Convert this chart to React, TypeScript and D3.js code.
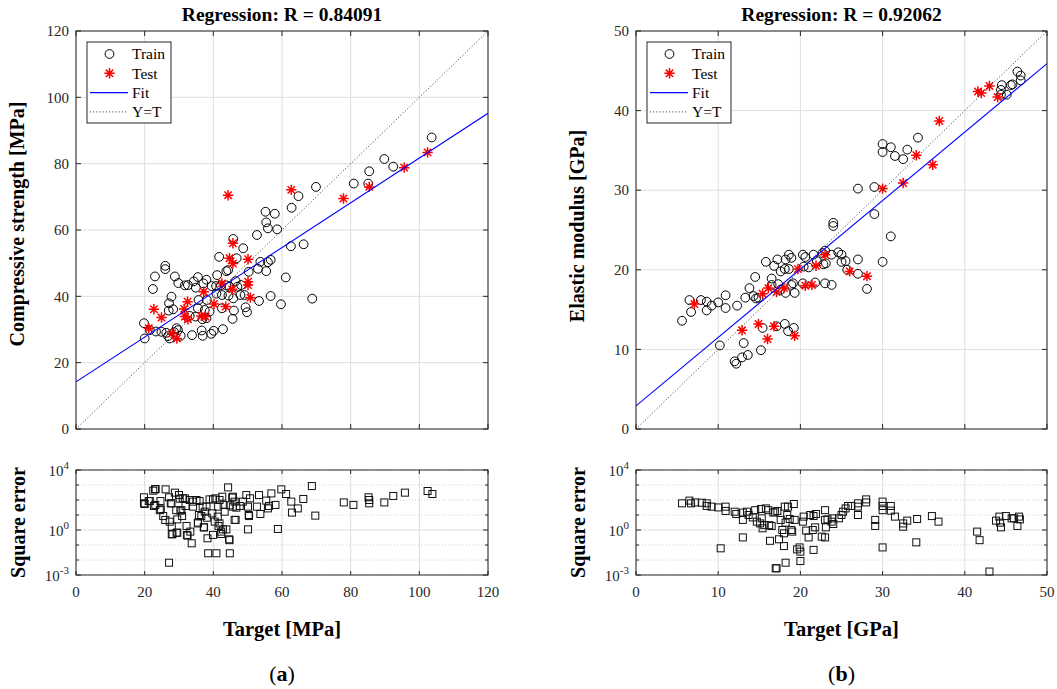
import React from 'react';
import * as d3 from 'd3';

// ---------- DATA ----------
// Panel (a): compressive strength [MPa]  [target, output]
const trainA: [number, number][] = [
  [103.6,87.9],[89.8,81.4],[92.4,79.1],[85.4,77.7],[80.9,74],[85.1,74],[69.9,73],[64.8,70.2],[62.8,66.7],[55.2,65.5],[57.9,64.9],[55.4,62.3],[55.9,60.5],[58.6,60.2],
  [52.7,58.5],[45.8,57.3],[48.7,54.5],[62.6,55.1],[66.3,55.7],[41.7,51.9],[46.8,51.5],[53.7,50.4],[55.9,50.3],[56.7,51],[53,48.3],[55.4,47.6],[50.3,47.4],
  [26,49.2],[26,48.2],[23,46],[28.8,46],[22.4,42.2],[29.8,44],[31.7,43.3],[32.6,43.4],[34.3,44.5],[35.5,45.8],[34.9,42.6],[37.1,43.9],[38,45],[41.1,46.4],[43.8,47.6],[44.3,47.9],
  [39.5,43.1],[40.8,43.1],[42.2,43.3],[43.8,43.3],[44.7,42.9],[46.5,44.6],[48.1,43.4],
  [38.1,38.9],[40.9,40.8],[42.5,40.4],[44.4,40.2],[45.8,39.4],[47,42.9],[47.9,40.4],[49.1,40.4],
  [35.7,38.9],[27.8,39.9],[27.1,37.9],[27,35.7],[28.3,36.1],
  [35.5,36.4],[37.5,35.9],[38,33.4],[36.8,33.1],[34.8,33.9],[33.1,34.1],[38.9,35.4],
  [42.5,36.4],[46,35.7],[49.4,36.7],[49.8,35.2],[45.6,33.2],
  [53.3,38.6],[56.7,40.1],[59.7,37.6],[61.1,45.7],[68.8,39.3],
  [19.8,31.9],[20,27.3],[21.5,29.8],[23.3,29.4],[24.9,29.3],[26.8,28],[29.3,30.4],[29.7,29.8],[26.3,29],[28.6,29.2],[27.3,27.3],
  [33.8,28.3],[36.6,29.7],[36.9,28.1],[39.4,28.7],[40.1,29.6],[42.8,30.1],[30.5,28.1]
];
const testA: [number, number][] = [
  [44.3,70.5],[62.7,72.1],[77.9,69.5],[85.4,73],[95.6,78.8],[102.4,83.4],
  [45.7,56],[44.7,51.5],[45.7,49.9],[50.1,51.2],[50.1,44.4],[50.1,43.4],[42.5,43.9],[45.5,42.1],[50.8,39.6],[37.2,41.4],
  [40.2,37.7],[43.6,36.9],[32.5,38.4],[31.5,36.2],[31.7,33.9],[32.6,33.1],[36.5,34.1],[37.7,33.9],[22.7,36.1],[24.9,33.6],[21.2,30.4],[28,28.8],[29.4,27.3]
];
const fitInterceptA = 14.2;
const fitSlopeA = 0.675;
const ticksA = [0, 20, 40, 60, 80, 100, 120];
// square error (a): [target, squared error]
const errA: [number, number][] = [
  [19.8,151],[19.8,60],[21.2,85],[22.5,417],[23,513],[22.7,40],[23.1,47],[24.6,85],[24.7,24],[25.4,8.5],[26,4.7],[26.1,513],[27.1,151],[27.6,60],[27.3,3.6],[27.9,1.66],[27.9,0.51],[27.1,0.0066],
  [28.8,309],[29.2,21],[29.5,5.1],[29.5,0.66],[30,214],[30.4,19.5],[30.9,8.5],[31.1,129],[31.9,40],[32.2,1.86],[32.5,0.42],[33.1,100],[33.3,0.78],[33.7,0.13],[34.1,36],[35.1,100],[35.5,3.1],
  [36,85],[36.5,8.5],[36.9,36],[37.2,1.5],[37.5,16.6],[38.1,6.6],[38.3,0.28],[38.5,0.028],[38.9,110],[39.7,12.9],[39.9,110],[39.9,0.47],[40.4,3.6],[40.9,0.028],[41.4,36],[41.8,100],[41.5,1.86],
  [42.3,0.78],[42.6,166],[43,47],[43.3,16.6],[43.8,1.1],[44.3,692],[44.6,0.24],[44.8,0.028],[44.8,44],[45.7,166],[46.2,78],[46.5,4.7],[46.7,31],[47.7,40],[48.6,78],[49.6,214],[50.1,36],[50.1,1.1],
  [50.4,8.5],[50.7,129],[53.3,214],[52.7,36],[53.7,11.7],[55.4,91],[55.9,27.5],[56.9,275],[56.2,40],[58.1,47],[58.8,1.17],[59.8,513],[61.2,251],[62.7,78],[62.9,14.5],[64.6,27.5],[66.2,117],
  [68.7,851],[69.7,9.1],[78,69],[80.8,47],[85.2,151],[85.4,100],[85.4,60],[89.8,69],[92.4,186],[95.8,309],[102.4,398],[103.8,251],
  [20,54],[21.5,85],[23.2,537],[24.4,21],[27.8,60],[28.1,0.54],[29.3,0.66],[30.2,123],[30.7,21],[31.7,129],[32.3,0.47],[34.1,78],[35.8,10],[35.5,2.75],[37.3,1.5],[38,36],[40.6,129],[41.3,7.8],
  [41.8,2.75],[42.3,0.54],[42.8,1.1],[44.7,0.21],[45.5,145],[45.7,36],[46.2,4.7],[50.3,10]
];

// Panel (b): elastic modulus [GPa]
const trainB: [number, number][] = [
  [46.4,44.9],[46.8,44.4],[46.8,43.8],[45.8,43.3],[45.6,43.2],[44.5,43.2],[44.4,42.6],[44.4,42],[45.1,42],
  [34.3,36.6],[30,35.8],[30,34.8],[31,35.4],[31.5,34.3],[32.5,33.9],[33,35.1],[27,30.2],[29,30.4],[29,27],[24,25.9],[24,25.5],
  [31,24.2],[30,21],[24.6,22.2],[25,21.9],[25.5,21.1],[25,21],[23.8,21.9],[27,21.3],[25.7,20],[27,19.5],[28.1,17.6],
  [20.3,21.9],[20.6,21.6],[21.6,21.9],[22,21.1],[22.7,22.1],[23,22.4],[22.8,20.7],[23.1,20.8],
  [15.8,21],[16.8,20.5],[17.2,21.3],[17.6,19.8],[18.2,21.3],[18.6,21.9],[18.9,21.5],[18.1,20.1],[18.6,20.1],[21,20.3],[20.4,20.4],
  [14.5,19.1],[16.5,18.9],[13.8,17.7],[13.3,16.5],[14.3,16.7],[14.6,16.4],[14.9,16.5],[16.5,18.1],[17.3,18.2],[17.6,17.5],[18.2,17.1],[18.9,18.1],[19.1,18.3],[19.3,17.1],[20.3,18.3],[21.8,18.4],[23,18.3],[23.8,18.1],
  [10.9,16.8],[10,15.9],[9.2,15.5],[8.6,16],[7.9,16.2],[6.5,16.2],[6.7,14.7],[8.6,14.9],[10.9,15.2],[12.3,15.5],[5.6,13.6],
  [10.2,10.5],[15.4,12.7],[18.1,13.2],[18.5,12.3],[19.2,12.7],[17.1,12.9],
  [13.1,10.8],[13.6,9.3],[12.9,9],[12,8.5],[12.2,8.2],[15.2,9.9]
];
const testB: [number, number][] = [
  [41.6,42.4],[42,42.2],[43,43.1],[44,41.7],[36.9,38.7],[34.1,34.4],[36.1,33.2],[32.5,30.9],[30,30.2],
  [23,21.9],[19.7,20.1],[21.9,20.5],[26,19.8],[28.1,19.2],[20.6,18],[21.4,18.1],[15.4,17],[16.1,17.7],[17.1,17.2],[18,17.7],
  [7.1,15.7],[12.9,12.4],[14.9,13.2],[16.8,12.9],[16,11.3],[19.3,11.7]
];
const fitInterceptB = 2.9;
const fitSlopeB = 0.86;
const ticksB = [0, 10, 20, 30, 40, 50];
const errB: [number, number][] = [
  [5.6,60],[6.5,91],[6.7,60],[7.2,69],[8,66],[8.6,60],[8.6,40],[9.2,36],[10,32],[10.9,36],[10.9,18.6],[10.3,0.06],[12,16.6],[12.2,11.7],[13,14.5],[13,4.7],[13,0.32],[13.5,16.6],[13.7,10],
  [14.2,6.9],[14.5,21],[14.7,3.6],[15.1,2.75],[15.2,25],[15.3,6],[15.4,1.3],[15.6,2.1],[15.8,27.5],[16.1,21],[16.2,2.1],[16.3,0.19],[16.5,1.86],[16.7,14.5],[16.9,16.6],[17,0.0028],[17.1,0.0028],
  [17.2,18.6],[17.4,0.24],[17.6,4.7],[17.8,1],[18,0.6],[18,0.085],[18.1,36],[18.2,3.1],[18.2,0.0066],[18.4,10],[18.5,36],[18.7,5.4],[18.9,1],[19,0.78],[19.2,54],[19.3,4.7],[19.6,0.051],
  [19.9,0.069],[20,0.036],[20,0.0085],[20.3,3.6],[20.4,7.8],[20.7,0.91],[21,0.32],[21.2,10],[21.5,1],[21.6,0.047],[21.6,8.5],[21.9,11.7],[21.8,1.5],[22.6,0.36],[23,0.32],[23,21],[23,4.7],
  [23.1,1.5],[23.3,5.1],[23.8,3.6],[23.9,6],[24,2.5],[24.7,6],[25,10],[25.2,16.6],[25.5,27.5],[25.8,40],[26.2,40],[27,60],[27,36],[27,10],[28,110],[28,69],[29.1,4.7],[29.1,1.86],
  [30,78],[30,40],[30,21],[30,0.069],[31,40],[31,19.5],[31.5,7.8],[32.5,2.75],[32.5,1.66],[33,4.2],[34.1,0.15],[34.2,5.4],[36,8.5],[36.8,3.6],[41.5,0.78],[41.8,0.21],[43,0.0017],
  [43.8,4.2],[44.2,7.8],[44.3,3.1],[44.4,1.5],[45,8.5],[45.7,6],[46,6],[46.4,1.86],[46.6,7.8],[46.7,5.1]
];
const errDecades = [1e-3, 1e-2, 1e-1, 1e0, 1e1, 1e2, 1e3, 1e4];
const errMajor = [{ v: 1e-3, exp: '-3' }, { v: 1e0, exp: '0' }, { v: 1e4, exp: '4' }];
const legendLabels = ['Train', 'Test', 'Fit', 'Y=T'];

// ---------- STYLE ----------
const FONT = '"Liberation Serif", "Times New Roman", Times, serif';
const AX = '#262626';
const GRID = '#dedede';

function starPath(r: number) {
  const d = r * 0.7071;
  return `M${-r},0H${r}M0,${-r}V${r}M${-d},${-d}L${d},${d}M${-d},${d}L${d},${-d}`;
}

type Pt = [number, number];

function MainPanel(props: {
  id: string; left: number; right: number; top: number; bottom: number; max: number; ticks: number[];
  train: Pt[]; test: Pt[]; b: number; m: number; title: string; ylabel: string; ylabelY: number;
}) {
  const { id, left, right, top, bottom, max, ticks, train, test, b, m, title, ylabel, ylabelY } = props;
  const x = d3.scaleLinear().domain([0, max]).range([left, right]);
  const y = d3.scaleLinear().domain([0, max]).range([bottom, top]);
  const tl = 5;
  const lgX = left + 11, lgY = top + 11, lgW = 84, lgH = 81;
  const star = starPath(5.2);
  return (
    <g>
      <defs>
        <clipPath id={id}><rect x={left} y={top} width={right - left} height={bottom - top} /></clipPath>
      </defs>
      {ticks.map((t) => (
        <g key={'g' + t}>
          <line x1={x(t)} x2={x(t)} y1={top} y2={bottom} stroke={GRID} strokeWidth={1} />
          <line x1={left} x2={right} y1={y(t)} y2={y(t)} stroke={GRID} strokeWidth={1} />
        </g>
      ))}
      <g clipPath={`url(#${id})`}>
        {train.map((p, i) => (
          <circle key={'c' + i} cx={x(p[0])} cy={y(p[1])} r={4.4} fill="none" stroke="#000" strokeWidth={1} />
        ))}
        {test.map((p, i) => (
          <path key={'s' + i} d={star} transform={`translate(${x(p[0])},${y(p[1])})`} stroke="#ff0000" strokeWidth={1.5} fill="none" />
        ))}
        <line x1={x(0)} y1={y(b)} x2={x(max)} y2={y(b + m * max)} stroke="#0000ff" strokeWidth={1.1} />
        <line x1={x(0)} y1={y(0)} x2={x(max)} y2={y(max)} stroke="#333" strokeWidth={1} strokeDasharray="1,2.2" />
      </g>
      <rect x={left} y={top} width={right - left} height={bottom - top} fill="none" stroke={AX} strokeWidth={1} />
      {ticks.map((t) => (
        <g key={'t' + t} stroke={AX} strokeWidth={1}>
          <line x1={x(t)} x2={x(t)} y1={bottom} y2={bottom - tl} />
          <line x1={x(t)} x2={x(t)} y1={top} y2={top + tl} />
          <line x1={left} x2={left + tl} y1={y(t)} y2={y(t)} />
          <line x1={right} x2={right - tl} y1={y(t)} y2={y(t)} />
        </g>
      ))}
      {ticks.map((t) => (
        <text key={'l' + t} x={left - 7} y={y(t)} dy="0.35em" textAnchor="end" fontFamily={FONT} fontSize={15} fill={AX}>{t}</text>
      ))}
      <text x={(left + right) / 2} y={21} textAnchor="middle" fontFamily={FONT} fontSize={19.5} fontWeight="bold" fill="#000">{title}</text>
      <text transform={`translate(${left - 52},${ylabelY}) rotate(-90)`} textAnchor="middle" fontFamily={FONT} fontSize={20} fontWeight="bold" fill="#000">{ylabel}</text>
      {/* legend */}
      <rect x={lgX} y={lgY} width={lgW} height={lgH} fill="#fff" stroke={AX} strokeWidth={1} />
      {legendLabels.map((lab, i) => {
        const yy = lgY + 12 + i * 19.3;
        return (
          <g key={lab}>
            {i === 0 && <circle cx={lgX + 22.5} cy={yy} r={4.4} fill="none" stroke="#000" strokeWidth={1} />}
            {i === 1 && <path d={star} transform={`translate(${lgX + 22.5},${yy})`} stroke="#ff0000" strokeWidth={1.5} fill="none" />}
            {i === 2 && <line x1={lgX + 3} x2={lgX + 41} y1={yy} y2={yy} stroke="#0000ff" strokeWidth={1.1} />}
            {i === 3 && <line x1={lgX + 3} x2={lgX + 41} y1={yy} y2={yy} stroke="#333" strokeWidth={1} strokeDasharray="1,2.2" />}
            <text x={lgX + 45} y={yy} dy="0.35em" fontFamily={FONT} fontSize={15.5} fill="#000">{lab}</text>
          </g>
        );
      })}
    </g>
  );
}

function ErrPanel(props: {
  id: string; left: number; right: number; top: number; bottom: number; max: number; ticks: number[];
  err: Pt[]; xlabel: string; tag: string;
}) {
  const { id, left, right, top, bottom, max, ticks, err, xlabel, tag } = props;
  const x = d3.scaleLinear().domain([0, max]).range([left, right]);
  const y = d3.scaleLog().domain([1e-3, 1e4]).range([bottom, top]);
  const s = 7;
  return (
    <g>
      <defs>
        <clipPath id={id}><rect x={left} y={top - 4} width={right - left} height={bottom - top + 8} /></clipPath>
      </defs>
      {ticks.map((t) => (
        <line key={'g' + t} x1={x(t)} x2={x(t)} y1={top} y2={bottom} stroke={GRID} strokeWidth={1} />
      ))}
      {errDecades.map((d) => (
        d === 1 ? <line key={'h' + d} x1={left} x2={right} y1={y(d)} y2={y(d)} stroke={GRID} strokeWidth={1} />
          : <line key={'h' + d} x1={left} x2={right} y1={y(d)} y2={y(d)} stroke="#c4c4c4" strokeWidth={0.8} strokeDasharray="1,2" />
      ))}
      <g clipPath={`url(#${id})`}>
        {err.map((p, i) => (
          <rect key={i} x={x(p[0]) - s / 2} y={y(p[1]) - s / 2} width={s} height={s} fill="none" stroke="#111" strokeWidth={1} />
        ))}
      </g>
      <rect x={left} y={top} width={right - left} height={bottom - top} fill="none" stroke={AX} strokeWidth={1} />
      {ticks.map((t) => (
        <g key={'t' + t} stroke={AX} strokeWidth={1}>
          <line x1={x(t)} x2={x(t)} y1={bottom} y2={bottom - 4} />
          <line x1={x(t)} x2={x(t)} y1={top} y2={top + 4} />
        </g>
      ))}
      {errDecades.map((d) => {
        const isMaj = errMajor.some((e) => e.v === d);
        const len = isMaj ? 5 : 3;
        return (
          <g key={'yt' + d} stroke={AX} strokeWidth={1}>
            <line x1={left} x2={left + len} y1={y(d)} y2={y(d)} />
            <line x1={right} x2={right - len} y1={y(d)} y2={y(d)} />
          </g>
        );
      })}
      {ticks.map((t) => (
        <text key={'l' + t} x={x(t)} y={bottom + 22} textAnchor="middle" fontFamily={FONT} fontSize={15} fill={AX}>{t}</text>
      ))}
      {errMajor.map((e) => (
        <text key={'ym' + e.v} x={left - 7} y={y(e.v) + 6} textAnchor="end" fontFamily={FONT} fontSize={15} fill={AX}>
          10<tspan dy={-7} fontSize={11}>{e.exp}</tspan>
        </text>
      ))}
      <text transform={`translate(${left - 51},${(top + bottom) / 2}) rotate(-90)`} textAnchor="middle" fontFamily={FONT} fontSize={20} fontWeight="bold" fill="#000">Square error</text>
      <text x={(left + right) / 2} y={636} textAnchor="middle" fontFamily={FONT} fontSize={20.5} fontWeight="bold" fill="#000">{xlabel}</text>
      <text x={(left + right) / 2} y={681} textAnchor="middle" fontFamily={FONT} fontSize={22} fill="#000">
        (<tspan fontWeight="bold">{tag}</tspan>)
      </text>
    </g>
  );
}

export default function App() {
  return (
    <svg width={1057} height={689} viewBox="0 0 1057 689" style={{ position: 'absolute', left: 0, top: 0, background: '#fff' }}>
      <rect x={0} y={0} width={1057} height={689} fill="#fff" />
      <MainPanel id="ca" left={76} right={488} top={31} bottom={429} max={120} ticks={ticksA} train={trainA} test={testA}
        b={fitInterceptA} m={fitSlopeA} title="Regression: R = 0.84091" ylabel="Compressive strength [MPa]" ylabelY={224} />
      <MainPanel id="cb" left={636} right={1047} top={31} bottom={429} max={50} ticks={ticksB} train={trainB} test={testB}
        b={fitInterceptB} m={fitSlopeB} title="Regression: R = 0.92062" ylabel="Elastic modulus [GPa]" ylabelY={226} />
      <ErrPanel id="ea" left={76} right={488} top={470} bottom={575} max={120} ticks={ticksA} err={errA} xlabel="Target [MPa]" tag="a" />
      <ErrPanel id="eb" left={636} right={1047} top={470} bottom={575} max={50} ticks={ticksB} err={errB} xlabel="Target [GPa]" tag="b" />
    </svg>
  );
}
